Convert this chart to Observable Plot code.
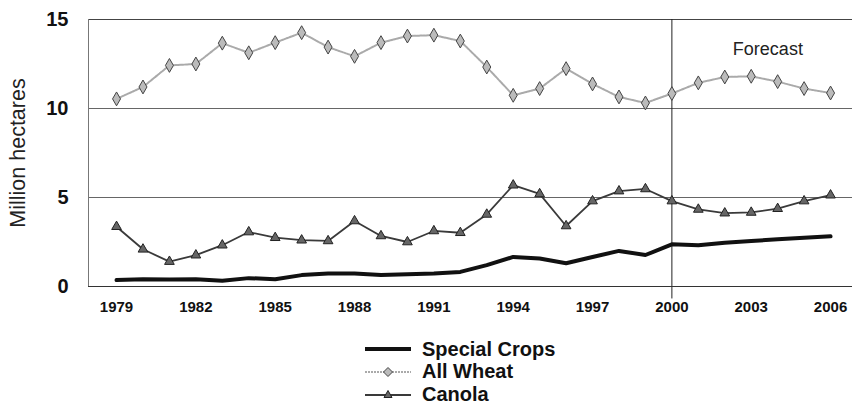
<!DOCTYPE html>
<html>
<head>
<meta charset="utf-8">
<script src="https://cdn.jsdelivr.net/npm/d3@7"></script>
<script src="https://cdn.jsdelivr.net/npm/@observablehq/plot@0.6"></script>
<style>
  html, body { margin: 0; padding: 0; background: #fff; }
  body { width: 854px; height: 409px; position: relative; overflow: hidden; font-family: "Liberation Sans", Arial, sans-serif; }
  #chart { position: absolute; left: 0; top: 0; }
  #legend { position: absolute; left: 364px; top: 338px; }
  .row { display: flex; align-items: center; height: 22.5px; }
  .row svg { display: block; margin-right: 10px; }
  .row span { font-size: 20px; font-weight: bold; color: #111; }
</style>
</head>
<body>
<div id="chart"></div>
<div id="legend"></div>
<script>
// ---- data ----
const years = [1979,1980,1981,1982,1983,1984,1985,1986,1987,1988,1989,1990,1991,1992,1993,1994,1995,1996,1997,1998,1999,2000,2001,2002,2003,2004,2005,2006];
const specialCrops = [0.36,0.41,0.40,0.41,0.32,0.47,0.41,0.64,0.73,0.73,0.64,0.69,0.73,0.82,1.20,1.66,1.57,1.31,1.66,2.00,1.77,2.37,2.32,2.46,2.56,2.65,2.74,2.82];
const allWheat = [10.54,11.21,12.42,12.50,13.67,13.13,13.70,14.26,13.45,12.93,13.70,14.07,14.12,13.79,12.33,10.74,11.12,12.24,11.38,10.65,10.31,10.84,11.44,11.77,11.81,11.51,11.12,10.87];
const canola = [3.36,2.09,1.40,1.76,2.32,3.06,2.74,2.60,2.56,3.68,2.84,2.50,3.12,3.02,4.05,5.69,5.20,3.40,4.80,5.36,5.48,4.80,4.33,4.12,4.16,4.37,4.80,5.13];
const xTicks = [1979,1982,1985,1988,1991,1994,1997,2000,2003,2006];
const yTicks = [0,5,10,15];
const gridValues = [5,10];
const forecastStart = 2000;
const forecastLabel = "Forecast";
const yTitle = "Million hectares";
const seriesNames = ["Special Crops","All Wheat","Canola"];

const rows = years.map((y,i) => ({year: y, special: specialCrops[i], wheat: allWheat[i], canola: canola[i]}));

const chart = Plot.plot({
  width: 854,
  height: 320,
  marginLeft: 88,
  marginRight: 2,
  marginTop: 19,
  marginBottom: 34,
  style: {fontFamily: "'Liberation Sans', Arial, sans-serif", background: "#fff", color: "#111"},
  x: {domain: [1977.94, 2006.83]},
  y: {domain: [0, 15]},
  marks: [
    Plot.ruleY(gridValues, {stroke: "#666", strokeWidth: 1}),
    Plot.ruleY([15], {stroke: "#444", strokeWidth: 1}),
    Plot.frame({anchor: "left", stroke: "#777"}),
    Plot.ruleX([forecastStart], {y1: -0.7, y2: 15, stroke: "#222", strokeWidth: 1}),
    Plot.ruleY([0], {stroke: "#333", strokeWidth: 1.2}),
    Plot.axisX({ticks: xTicks, tickSize: 0, tickPadding: 15, tickFormat: d => String(d), fontSize: 15, fontWeight: "bold", label: null}),
    Plot.axisY({ticks: yTicks, tickSize: 0, tickPadding: 20, fontSize: 20, fontWeight: "bold", label: null}),
    Plot.text([yTitle], {frameAnchor: "left", textAnchor: "middle", rotate: -90, dx: -70, fontSize: 21.5, fill: "#222", text: d => d}),
    Plot.text([forecastLabel], {x: 2003.63, y: 13.35, fontSize: 18, fill: "#222", text: d => d, style: "letter-spacing:1.5px"}),
    // All Wheat
    Plot.line(rows, {x: "year", y: "wheat", stroke: "#aaaaaa", strokeWidth: 2, strokeDasharray: "2,1"}),
    Plot.dot(rows, {x: "year", y: "wheat", symbol: "diamond", r: 4.2, fill: "#bbbbbb", stroke: "#444", strokeWidth: 1}),
    // Canola
    Plot.line(rows, {x: "year", y: "canola", stroke: "#3a3a3a", strokeWidth: 1.8}),
    Plot.dot(rows, {x: "year", y: "canola", symbol: "triangle", r: 3.6, fill: "#666", stroke: "#222", strokeWidth: 1}),
    // Special crops
    Plot.line(rows, {x: "year", y: "special", stroke: "#111", strokeWidth: 4})
  ]
});
document.getElementById("chart").appendChild(chart);

// legend
const legend = document.getElementById("legend");
const swatches = [
  `<svg width="48" height="14"><line x1="1" y1="7" x2="47" y2="7" stroke="#111" stroke-width="4"/></svg>`,
  `<svg width="48" height="14"><line x1="1" y1="7" x2="47" y2="7" stroke="#aaaaaa" stroke-width="2" stroke-dasharray="2,1"/><path d="M24,2.5 L28.5,7 L24,11.5 L19.5,7 Z" fill="#bbbbbb" stroke="#444"/></svg>`,
  `<svg width="48" height="14"><line x1="1" y1="8" x2="47" y2="8" stroke="#3a3a3a" stroke-width="1.8"/><path d="M24,3.5 L28,10.5 L20,10.5 Z" fill="#666" stroke="#222"/></svg>`
];
seriesNames.forEach((name, i) => {
  const row = document.createElement("div");
  row.className = "row";
  row.innerHTML = swatches[i] + `<span>${name}</span>`;
  legend.appendChild(row);
});
</script>
</body>
</html>
